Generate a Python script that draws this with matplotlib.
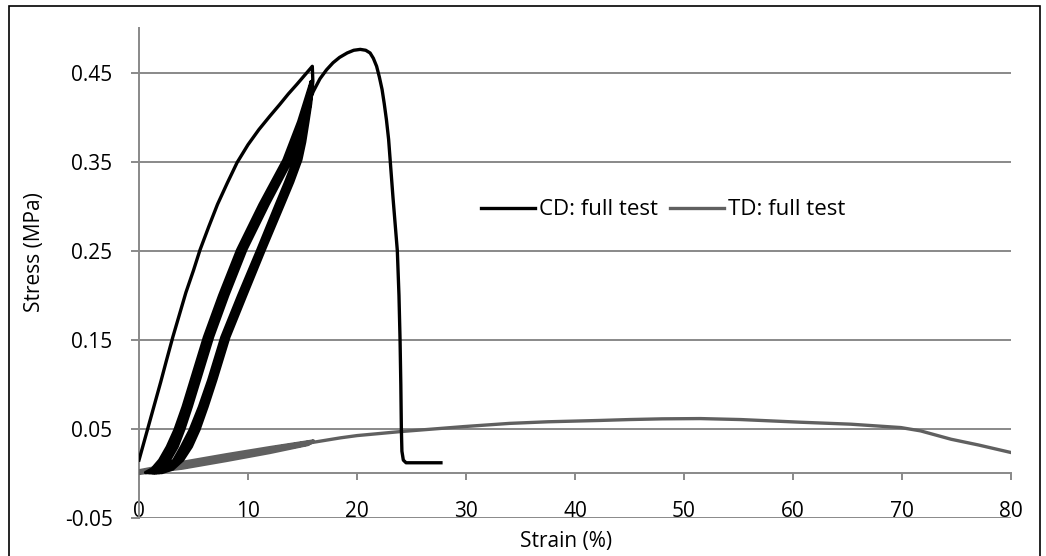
import matplotlib
matplotlib.use("Agg")
import matplotlib.pyplot as plt
from matplotlib.patches import Rectangle

plt.rcParams['font.family'] = ['Open Sans', 'DejaVu Sans']

# CD sample: first loading, four unload/reload cycles, final pull to failure
cd_load0_strain = [0.0, 0.5, 1.0, 1.5, 2.0, 2.5, 3.1, 3.7, 4.3, 5.0, 5.6, 6.4, 7.2, 8.1, 9.0,
                   10.0, 11.0, 12.0, 12.9, 13.7, 14.5, 15.2, 15.9]
cd_load0_stress = [0.015, 0.037, 0.059, 0.081, 0.103, 0.126, 0.153, 0.178, 0.203, 0.228, 0.251, 0.277,
                   0.302, 0.326, 0.349, 0.369, 0.386, 0.401, 0.414, 0.426, 0.437, 0.447, 0.457]

# unloading branches (right band), read top to bottom
unload_stress = [0.440, 0.415, 0.395, 0.372, 0.352, 0.327, 0.302, 0.251, 0.200, 0.153, 0.105,
                 0.075, 0.049, 0.030, 0.015, 0.005, 0.001]
cd_unload1_strain = [15.95, 15.75, 15.5, 15.2, 14.85, 14.1, 13.25, 11.5, 9.8, 8.25, 7.05,
                     6.25, 5.5, 4.8, 4.0, 3.1, 2.1]
cd_unload2_strain = [15.9, 15.7, 15.4, 15.05, 14.65, 13.9, 13.05, 11.3, 9.6, 8.05, 6.85,
                     6.0, 5.25, 4.5, 3.75, 2.85, 1.85]
cd_unload3_strain = [15.85, 15.6, 15.3, 14.9, 14.45, 13.7, 12.85, 11.1, 9.4, 7.85, 6.65,
                     5.8, 5.0, 4.2, 3.5, 2.6, 1.6]
cd_unload4_strain = [15.8, 15.5, 15.2, 14.75, 14.25, 13.45, 12.6, 10.9, 9.15, 7.6, 6.4,
                     5.55, 4.7, 3.9, 3.2, 2.35, 1.4]

# reloading branches (left band), read bottom to top
reload_stress = [0.001, 0.005, 0.015, 0.030, 0.049, 0.075, 0.105, 0.153, 0.200, 0.251, 0.302, 0.352, 0.395, 0.440]
cd_reload1_strain = [0.6, 1.2, 1.9, 2.6, 3.3, 4.05, 4.8, 6.0, 7.4, 9.05, 11.1, 13.3, 14.65, 15.8]
cd_reload2_strain = [0.9, 1.5, 2.2, 2.9, 3.6, 4.3, 5.05, 6.25, 7.65, 9.3, 11.35, 13.55, 14.85, 15.85]
cd_reload3_strain = [1.2, 1.8, 2.5, 3.2, 3.85, 4.55, 5.3, 6.5, 7.9, 9.55, 11.6, 13.75, 15.0, 15.9]

# last reload carries on through the peak and the break
cd_final_strain = [1.4, 2.1, 2.8, 3.5, 4.1, 4.8, 5.55, 6.75, 8.15, 9.8, 11.85, 14.0, 14.8, 15.4,
                   16.0, 16.6, 17.2, 17.8, 18.4, 19.1, 19.7, 20.3, 20.8, 21.2, 21.5, 21.8,
                   22.05, 22.3, 22.5, 22.7, 22.9, 23.05, 23.3, 23.5, 23.7, 23.85, 23.95,
                   24.02, 24.07, 24.12, 24.25, 24.5, 25.0, 27.7]
cd_final_stress = [0.001, 0.005, 0.015, 0.030, 0.049, 0.075, 0.105, 0.153, 0.200, 0.251, 0.302, 0.352, 0.385, 0.412,
                   0.429, 0.443, 0.453, 0.461, 0.467, 0.472, 0.475, 0.476, 0.475, 0.472, 0.466, 0.457,
                   0.445, 0.431, 0.415, 0.397, 0.375, 0.350, 0.310, 0.280, 0.250, 0.200, 0.150,
                   0.100, 0.050, 0.025, 0.015, 0.012, 0.012, 0.012]

# TD sample: small cycles up to 16 % then pulled to 80 %
td_load_strain = [0.0, 4.0, 8.0, 12.0, 16.0]
td_load1_stress = [0.003, 0.0125, 0.021, 0.029, 0.0365]
td_load2_stress = [0.002, 0.011, 0.0195, 0.028, 0.036]
td_unload_strain = [16.0, 15.5, 12.0, 8.0, 4.0, 0.0]
td_unload1_stress = [0.0365, 0.0325, 0.0235, 0.0145, 0.006, 0.0]
td_unload2_stress = [0.036, 0.033, 0.025, 0.016, 0.007, 0.001]
td_final_strain = [0.0, 4.0, 8.0, 12.0, 16.0, 18.5, 20.0, 24.0, 29.8, 34.0, 37.5, 42.3, 45.0, 48.0,
                   51.5, 55.2, 60.7, 65.3, 69.9, 71.7, 74.5, 77.0, 80.0]
td_final_stress = [0.0015, 0.0105, 0.019, 0.027, 0.035, 0.040, 0.0425, 0.047, 0.0526, 0.0562, 0.058, 0.0595,
                   0.0605, 0.0613, 0.0616, 0.0605, 0.0575, 0.0553, 0.0515, 0.0478, 0.0384, 0.032, 0.0235]

cd_strain = (cd_load0_strain + cd_unload1_strain + cd_reload1_strain + cd_unload2_strain
             + cd_reload2_strain + cd_unload3_strain + cd_reload3_strain + cd_unload4_strain
             + cd_final_strain)
cd_stress = (cd_load0_stress + unload_stress + reload_stress + unload_stress
             + reload_stress + unload_stress + reload_stress + unload_stress + cd_final_stress)
td_strain = td_load_strain + td_unload_strain + td_load_strain + td_unload_strain + td_final_strain
td_stress = td_load1_stress + td_unload1_stress + td_load2_stress + td_unload2_stress + td_final_stress

x_ticks = [0, 10, 20, 30, 40, 50, 60, 70, 80]
y_ticks = [-0.05, 0.05, 0.15, 0.25, 0.35, 0.45]

grid_col = '#898989'

fig = plt.figure(figsize=(10.46, 5.56), dpi=100)
ax = fig.add_axes([139 / 1046, 1 - 518 / 556, 872 / 1046, 490 / 556])

ax.plot(cd_strain, cd_stress, color='black', lw=2.4, label='CD: full test',
        solid_joinstyle='round', zorder=4)
ax.plot(td_strain, td_stress, color='#606060', lw=2.4, label='TD: full test',
        solid_joinstyle='round', zorder=3)

ax.set_xlim(0, 80)
ax.set_ylim(-0.05, 0.5)
ax.set_xticks(x_ticks)
ax.set_yticks(y_ticks)
ax.set_yticklabels([f'{v:.2f}' for v in y_ticks])

ax.grid(axis='y', color=grid_col, lw=1.4)
ax.set_axisbelow(True)
for s in ['top', 'right']:
    ax.spines[s].set_visible(False)
ax.spines['bottom'].set_position(('data', 0))
ax.spines['bottom'].set_color(grid_col)
ax.spines['bottom'].set_linewidth(1.4)
ax.spines['left'].set_color(grid_col)
ax.spines['left'].set_linewidth(1.4)

ax.tick_params(axis='x', direction='out', length=5, width=1.4, color=grid_col,
               labelsize=15, pad=15)
ax.tick_params(axis='y', direction='out', length=6, width=1.4, color=grid_col,
               labelsize=15, pad=13)

ax.set_xlabel('Strain (%)', fontsize=15)
ax.set_ylabel('Stress (MPa)', fontsize=15)
ax.xaxis.set_label_coords(0.49, -0.026)
ax.yaxis.set_label_coords(-0.108, 0.543)

ax.legend(loc='center', bbox_to_anchor=(0.6015, 0.6286), ncol=2, frameon=False,
          fontsize=16, handlelength=2.4, handletextpad=0.2, columnspacing=0.55)

fig.patches.append(Rectangle((8.5 / 1046, -0.02), 1031.5 / 1046, 1.02 - 6 / 556,
                             transform=fig.transFigure, fill=False,
                             edgecolor='black', lw=1.2))

fig.savefig('out.png', dpi=100)
